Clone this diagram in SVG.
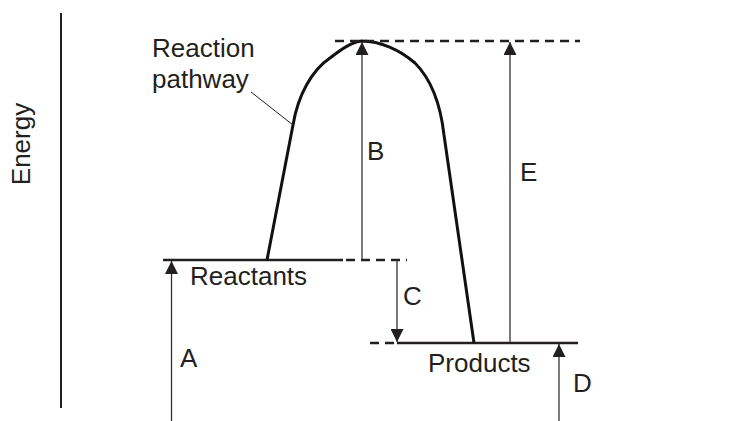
<svg xmlns="http://www.w3.org/2000/svg" width="737" height="421" viewBox="0 0 737 421">
<style>
  text { font-family: "Liberation Sans", Arial, sans-serif; font-size: 26px; fill: #231f20; }
  .axis { stroke: #231f20; stroke-width: 2; fill: none; }
  .level { stroke: #231f20; stroke-width: 2.6; fill: none; }
  .dash { stroke: #231f20; stroke-width: 2.4; stroke-dasharray: 9 6; fill: none; }
  .arrow { stroke: #333; stroke-width: 1.3; fill: none; marker-end: url(#head); }
  .curve { stroke: #111; stroke-width: 3; fill: none; stroke-linejoin: round; }
  .leader { stroke: #231f20; stroke-width: 1; fill: none; }
</style>
<defs>
  <marker id="head" markerUnits="userSpaceOnUse" markerWidth="13" markerHeight="13" refX="13" refY="6.5" orient="auto">
    <path d="M0,0 L13,6.5 L0,13 z" fill="#231f20"/>
  </marker>
</defs>
<rect width="737" height="421" fill="#fff"/>

<g id="axis">
  <line class="axis" x1="61" y1="13" x2="61" y2="408"/>
  <text transform="translate(30,144) rotate(-90)" text-anchor="middle">Energy</text>
</g>

<g id="reactants">
  <line class="level" x1="163" y1="260" x2="343" y2="260"/>
  <text x="190" y="285">Reactants</text>
</g>

<g id="products">
  <line class="level" x1="397" y1="343" x2="578" y2="343"/>
  <text x="428" y="372">Products</text>
</g>

<g id="pathway">
  <path class="curve" d="M267,260 L293,125 C298,95 312,70 330,58 C343,48 352,42 362,41 C380,41 400,50 415,63 C430,78 440,100 444,135 L474,343"/>
  <text x="152" y="57">Reaction</text>
  <text x="152" y="88">pathway</text>
  <line class="leader" x1="251" y1="92" x2="293" y2="125"/>
</g>

<g id="connectors">
  <line class="dash" x1="335" y1="41" x2="580" y2="41"/>
  <line class="dash" x1="346" y1="260" x2="407" y2="260"/>
  <line class="dash" x1="370" y1="343" x2="397" y2="343"/>
  <line class="arrow" x1="171.5" y1="421" x2="171.5" y2="261"/>
  <line class="arrow" x1="362" y1="260" x2="362" y2="42"/>
  <line class="arrow" x1="510" y1="343" x2="510" y2="42"/>
  <line class="arrow" x1="397" y1="260" x2="397" y2="342"/>
  <line class="arrow" x1="559" y1="421" x2="559" y2="344"/>
</g>

<g id="labels">
  <text x="180" y="367">A</text>
  <text x="367" y="160">B</text>
  <text x="403" y="305">C</text>
  <text x="573" y="392">D</text>
  <text x="520" y="181">E</text>
</g>
</svg>
